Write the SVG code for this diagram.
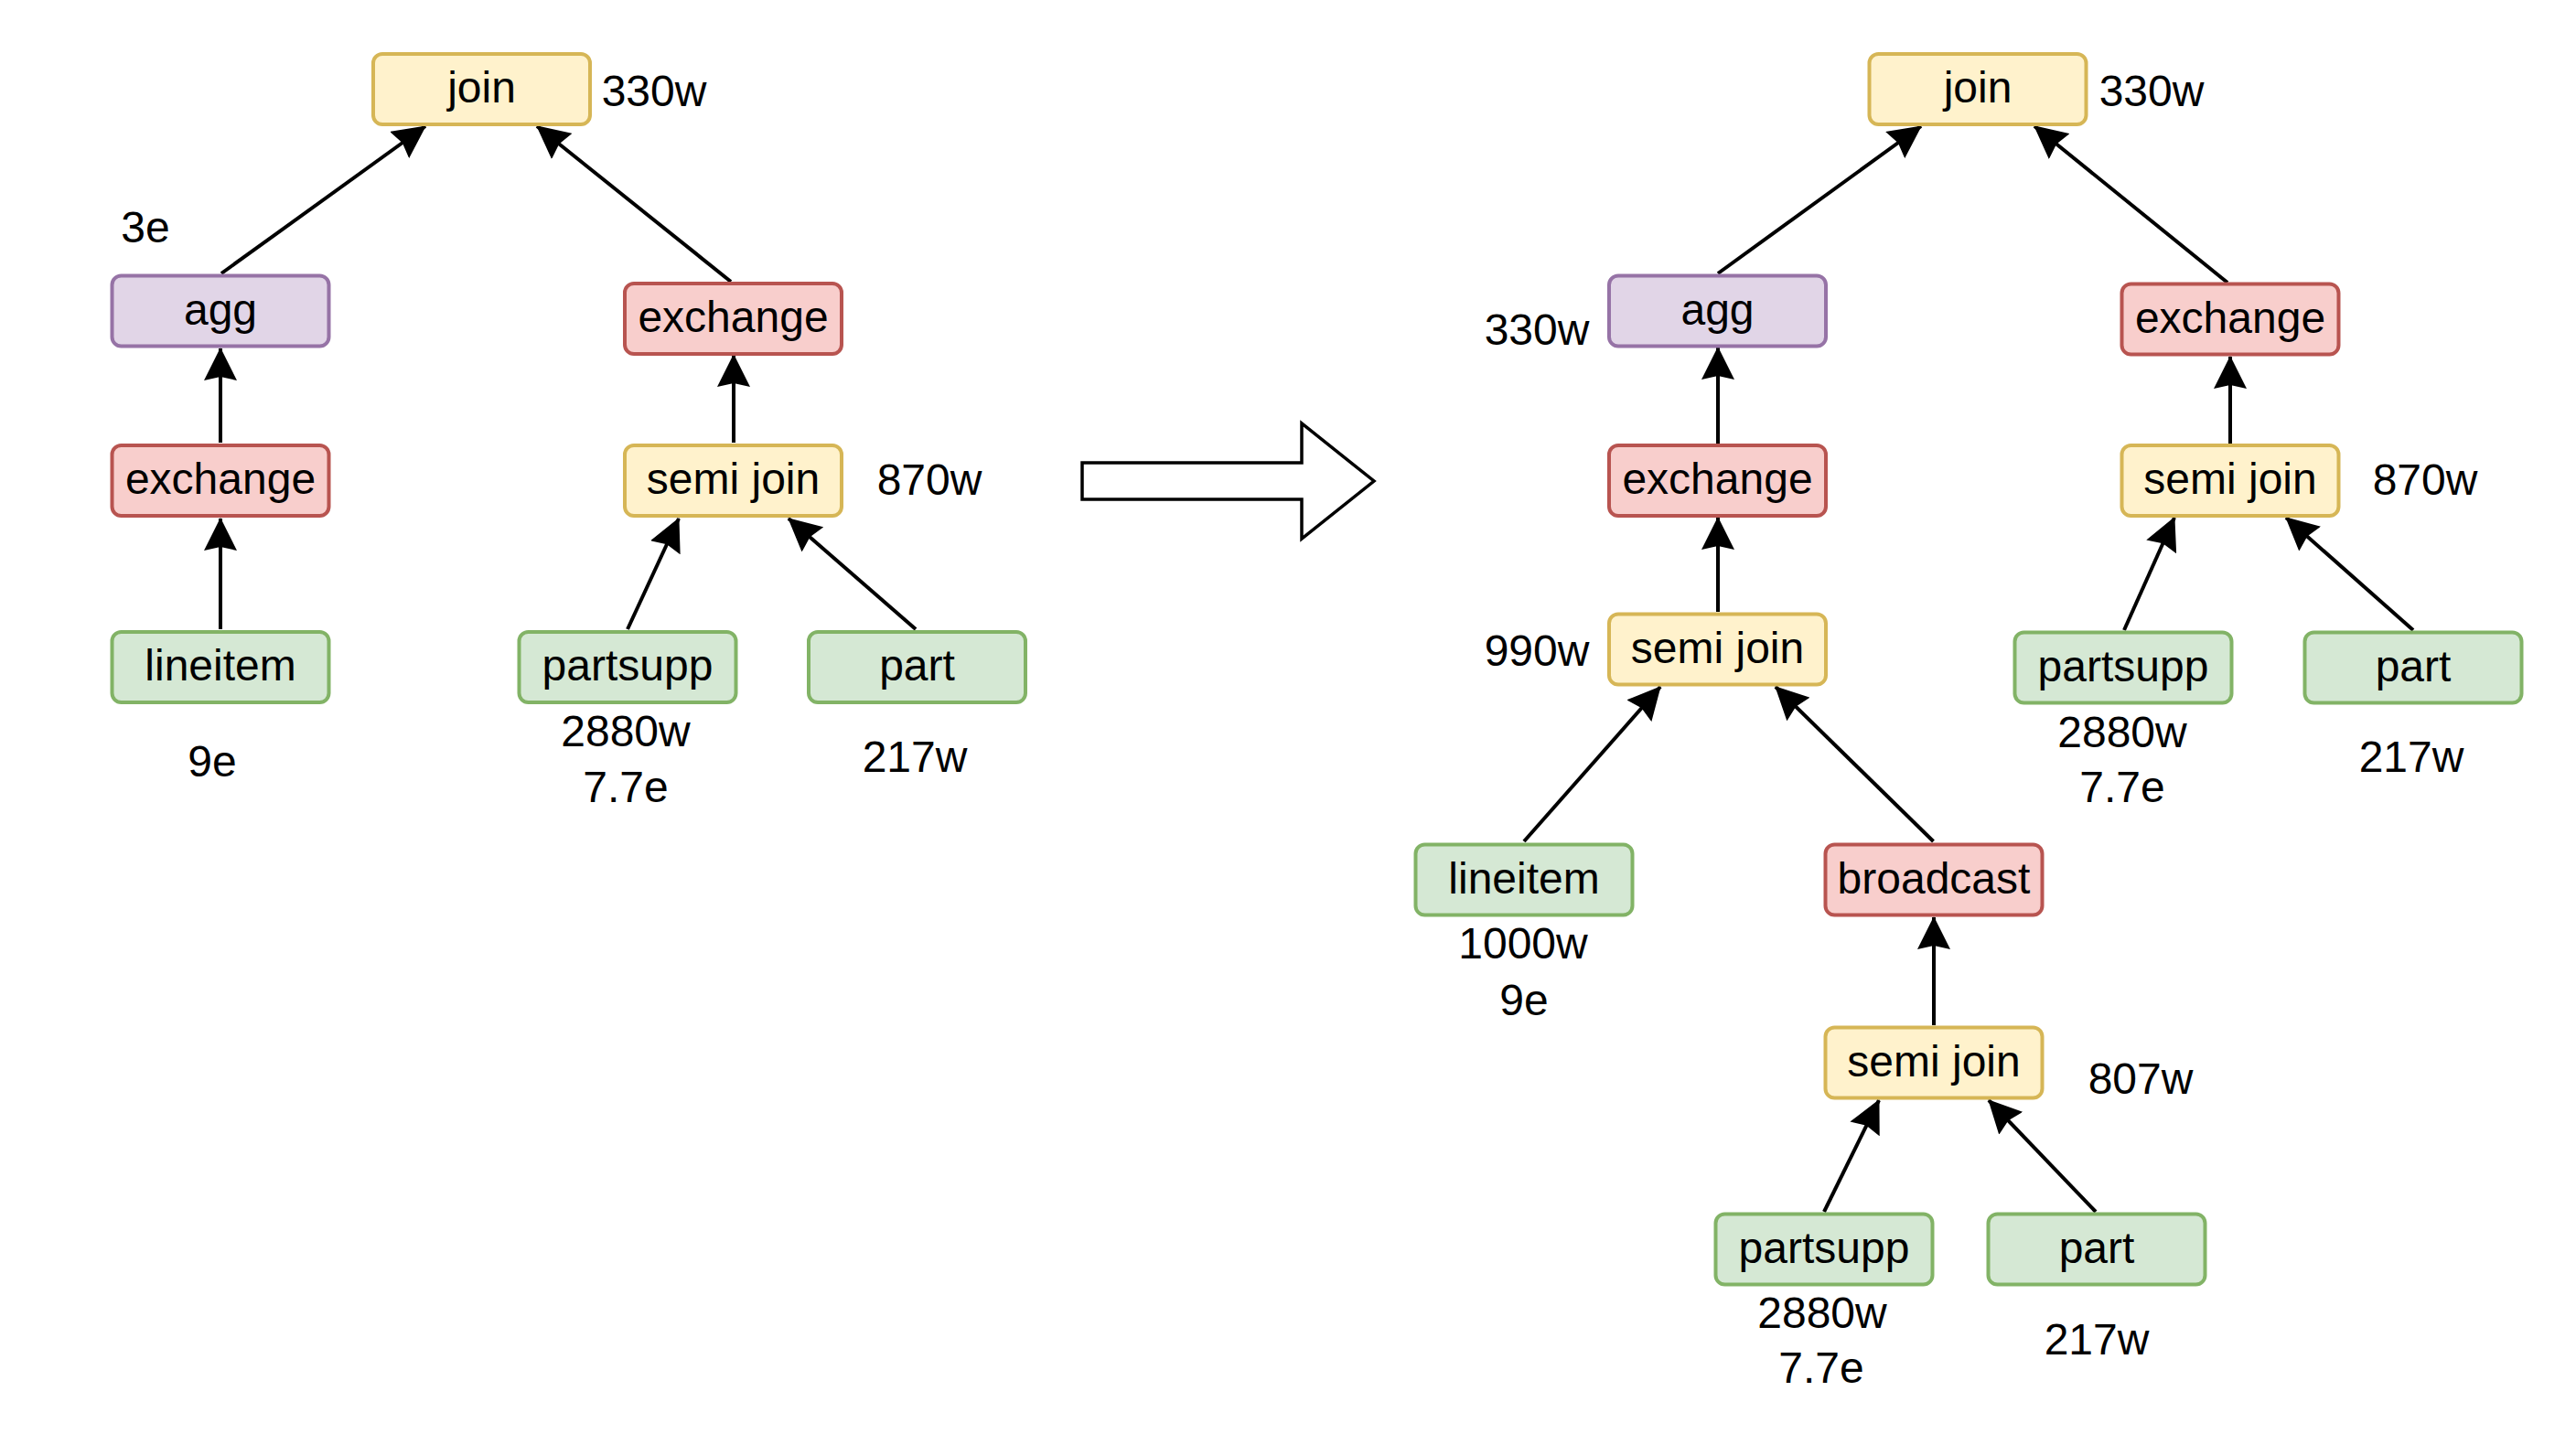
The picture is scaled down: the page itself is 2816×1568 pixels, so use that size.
<svg xmlns="http://www.w3.org/2000/svg" width="2816" height="1568" viewBox="0 0 2816 1568">
<style>
text{font-family:"Liberation Sans",Arial,Helvetica,sans-serif;font-size:48px;fill:#000;text-anchor:middle;dominant-baseline:central}
.n text{transform:translateY(-2px)}
.n rect{stroke-width:4}
.y rect{fill:#fff2cc;stroke:#d6b656}
.p rect{fill:#e1d5e7;stroke:#9673a6}
.r rect{fill:#f8cecc;stroke:#b85450}
.g rect{fill:#d5e8d4;stroke:#82b366}
#edges path{fill:none;stroke:#000;stroke-width:4;marker-end:url(#ah)}
</style>
<defs>
<marker id="ah" markerUnits="userSpaceOnUse" markerWidth="36" markerHeight="36" viewBox="0 0 36 36" refX="35" refY="18" orient="auto">
<path d="M36,18 L0,0 L4,18 L0,36 Z" fill="#000"/>
</marker>
</defs>
<rect width="2816" height="1568" fill="#fff"/>

<g id="edges">
<path d="M242,299 L465,138"/>
<path d="M799,308 L587,138"/>
<path d="M241,484 L241,381"/>
<path d="M241,688 L241,567"/>
<path d="M802,484 L802,388"/>
<path d="M686,688 L742,567"/>
<path d="M1001,688 L862,567"/>
<path d="M1878,299 L2100,138"/>
<path d="M2435,309 L2224,138"/>
<path d="M1878,485 L1878,380"/>
<path d="M1878,669 L1878,566"/>
<path d="M2438,485 L2438,390"/>
<path d="M2322,689 L2377,566"/>
<path d="M2638,689 L2499,566"/>
<path d="M1666,920 L1815,751"/>
<path d="M2113.5,920 L1941,751"/>
<path d="M2114,1121 L2114,1003"/>
<path d="M1994,1325 L2054,1203"/>
<path d="M2291,1325 L2174,1203"/>
</g>

<g id="transform-arrow">
<polygon points="1183,506 1423,506 1423,463 1502,526 1423,589 1423,546 1183,546" fill="#fff" stroke="#000" stroke-width="3.5"/>
</g>

<!-- left tree -->
<g id="l-join" class="n y"><rect x="408" y="59" width="237" height="77" rx="10"/><text x="526.5" y="97.5">join</text></g>
<g id="l-agg" class="n p"><rect x="122.5" y="301.5" width="237" height="77" rx="10"/><text x="241" y="340">agg</text></g>
<g id="l-exch-r" class="n r"><rect x="683" y="310" width="237" height="77" rx="10"/><text x="801.5" y="348.5">exchange</text></g>
<g id="l-exch-l" class="n r"><rect x="122.5" y="487" width="237" height="77" rx="10"/><text x="241" y="525.5">exchange</text></g>
<g id="l-semi" class="n y"><rect x="683" y="487" width="237" height="77" rx="10"/><text x="801.5" y="525.5">semi join</text></g>
<g id="l-lineitem" class="n g"><rect x="122.5" y="691" width="237" height="77" rx="10"/><text x="241" y="729.5">lineitem</text></g>
<g id="l-partsupp" class="n g"><rect x="567.5" y="691" width="237" height="77" rx="10"/><text x="686" y="729.5">partsupp</text></g>
<g id="l-part" class="n g"><rect x="884" y="691" width="237" height="77" rx="10"/><text x="1002.5" y="729.5">part</text></g>

<g id="l-labels">
<text x="715" y="99">330w</text>
<text x="159" y="248">3e</text>
<text x="1016" y="524">870w</text>
<text x="232" y="832">9e</text>
<text x="684" y="799">2880w</text>
<text x="684" y="860">7.7e</text>
<text x="1000" y="827">217w</text>
</g>

<!-- right tree -->
<g id="r-join" class="n y"><rect x="2043.5" y="59" width="237" height="77" rx="10"/><text x="2162" y="97.5">join</text></g>
<g id="r-agg" class="n p"><rect x="1759" y="301.5" width="237" height="77" rx="10"/><text x="1877.5" y="340">agg</text></g>
<g id="r-exch-r" class="n r"><rect x="2319.5" y="310.5" width="237" height="77" rx="10"/><text x="2438" y="349">exchange</text></g>
<g id="r-exch-l" class="n r"><rect x="1759" y="487" width="237" height="77" rx="10"/><text x="1877.5" y="525.5">exchange</text></g>
<g id="r-semi-r" class="n y"><rect x="2319.5" y="487" width="237" height="77" rx="10"/><text x="2438" y="525.5">semi join</text></g>
<g id="r-semi-l" class="n y"><rect x="1759" y="671.5" width="237" height="77" rx="10"/><text x="1877.5" y="710">semi join</text></g>
<g id="r-partsupp" class="n g"><rect x="2202.5" y="691.5" width="237" height="77" rx="10"/><text x="2321" y="730">partsupp</text></g>
<g id="r-part" class="n g"><rect x="2519.5" y="691.5" width="237" height="77" rx="10"/><text x="2638" y="730">part</text></g>
<g id="r-lineitem" class="n g"><rect x="1547.5" y="923.5" width="237" height="77" rx="10"/><text x="1666" y="962">lineitem</text></g>
<g id="r-broadcast" class="n r"><rect x="1995.5" y="923.5" width="237" height="77" rx="10"/><text x="2114" y="962">broadcast</text></g>
<g id="r-semi-b" class="n y"><rect x="1995.5" y="1123.5" width="237" height="77" rx="10"/><text x="2114" y="1162">semi join</text></g>
<g id="r-partsupp-b" class="n g"><rect x="1875.5" y="1327.5" width="237" height="77" rx="10"/><text x="1994" y="1366">partsupp</text></g>
<g id="r-part-b" class="n g"><rect x="2173.5" y="1327.5" width="237" height="77" rx="10"/><text x="2292" y="1366">part</text></g>

<g id="r-labels">
<text x="2352" y="99">330w</text>
<text x="1680" y="360">330w</text>
<text x="2651" y="524">870w</text>
<text x="1680" y="711">990w</text>
<text x="2320" y="800">2880w</text>
<text x="2320" y="860">7.7e</text>
<text x="2636" y="827">217w</text>
<text x="1665" y="1031">1000w</text>
<text x="1666" y="1093">9e</text>
<text x="2340" y="1179">807w</text>
<text x="1992" y="1435">2880w</text>
<text x="1991" y="1495">7.7e</text>
<text x="2292" y="1464">217w</text>
</g>
</svg>
